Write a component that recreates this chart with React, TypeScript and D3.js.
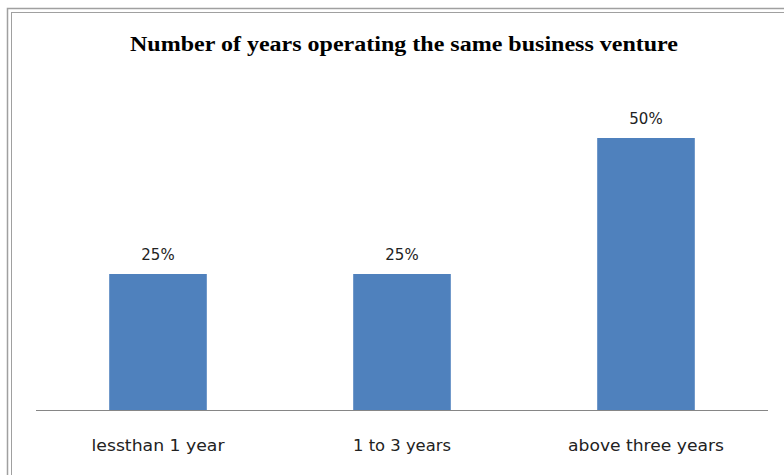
import React from "react";
import * as d3 from "d3";

const categories = ["lessthan 1 year", "1 to 3 years", "above three years"];
const values = [25, 25, 50];
const valueLabels = ["25%", "25%", "50%"];
const title = "Number of years operating the same business venture";

export default function App() {
  const W = 784, H = 475;
  const x = d3.scaleBand<string>().domain(categories).range([36, 768]).paddingInner(0.6).paddingOuter(0.3);
  const y = d3.scaleLinear().domain([0, 50]).range([410, 138]);
  const labelWidths = [133, 98, 156];
  return (
    <svg width={W} height={H} style={{ position: "absolute", left: 0, top: 0, background: "#fff" }}>
      <rect x={7.5} y={8.5} width={800} height={500} fill="none" stroke="#a0a0a0" strokeWidth={1.5} />
      <rect x={11.5} y={12.5} width={800} height={500} fill="none" stroke="#a0a0a0" strokeWidth={1} />
      <text x={404} y={51} textAnchor="middle" fontFamily="'Liberation Serif', serif" fontWeight="bold" fontSize={20} fill="#000" textLength={548} lengthAdjust="spacingAndGlyphs">{title}</text>
      {categories.map((c, i) => (
        <g key={c}>
          <rect x={x(c)} y={y(values[i])} width={x.bandwidth()} height={y(0) - y(values[i])} fill="#4F81BD" />
          <text x={(x(c) as number) + x.bandwidth() / 2} y={y(values[i]) - 14} textAnchor="middle" fontFamily="'DejaVu Sans', sans-serif" fontSize={15} fill="#222">{valueLabels[i]}</text>
          <text x={(x(c) as number) + x.bandwidth() / 2} y={451} textAnchor="middle" fontFamily="'DejaVu Sans', sans-serif" fontSize={15} fill="#222" textLength={labelWidths[i]} lengthAdjust="spacingAndGlyphs">{c}</text>
        </g>
      ))}
      <line x1={36} x2={768} y1={410.5} y2={410.5} stroke="#868686" strokeWidth={1} />
    </svg>
  );
}
